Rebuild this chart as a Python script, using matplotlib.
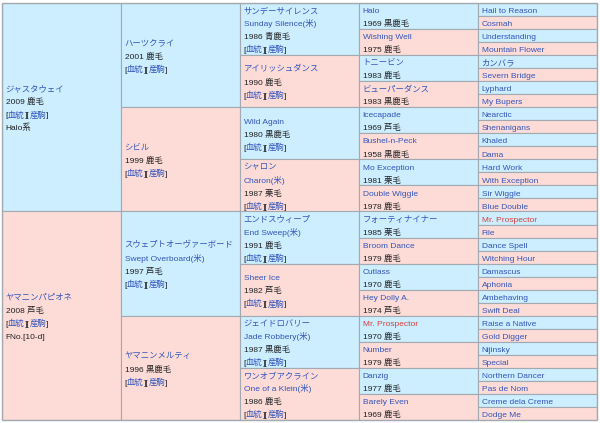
import matplotlib.pyplot as plt
from matplotlib.patches import Rectangle

plt.rcParams['font.family'] = ['Liberation Sans', 'Noto Sans CJK JP']

# each entry: (name lines shown as links, year / coat)
gen1 = [
    (['ジャスタウェイ'], '2009 鹿毛'),
    (['ヤマニンパピオネ'], '2008 芦毛'),
]
gen1_notes = ['Halo系', 'FNo.[10-d]']

gen2 = [
    (['ハーツクライ'], '2001 鹿毛'),
    (['シビル'], '1999 鹿毛'),
    (['スウェプトオーヴァーボード', 'Swept Overboard(米)'], '1997 芦毛'),
    (['ヤマニンメルティ'], '1996 黒鹿毛'),
]

gen3 = [
    (['サンデーサイレンス', 'Sunday Silence(米)'], '1986 青鹿毛'),
    (['アイリッシュダンス'], '1990 鹿毛'),
    (['Wild Again'], '1980 黒鹿毛'),
    (['シャロン', 'Charon(米)'], '1987 栗毛'),
    (['エンドスウィープ', 'End Sweep(米)'], '1991 鹿毛'),
    (['Sheer Ice'], '1982 芦毛'),
    (['ジェイドロバリー', 'Jade Robbery(米)'], '1987 黒鹿毛'),
    (['ワンオブアクライン', 'One of a Klein(米)'], '1986 鹿毛'),
]

gen4 = [
    (['Halo'], '1969 黒鹿毛'),
    (['Wishing Well'], '1975 鹿毛'),
    (['トニービン'], '1983 鹿毛'),
    (['ビューパーダンス'], '1983 黒鹿毛'),
    (['Icecapade'], '1969 芦毛'),
    (['Bushel-n-Peck'], '1958 黒鹿毛'),
    (['Mo Exception'], '1981 栗毛'),
    (['Double Wiggle'], '1978 鹿毛'),
    (['フォーティナイナー'], '1985 栗毛'),
    (['Broom Dance'], '1979 鹿毛'),
    (['Cutlass'], '1970 鹿毛'),
    (['Hey Dolly A.'], '1974 芦毛'),
    (['Mr. Prospector'], '1970 鹿毛'),
    (['Number'], '1979 鹿毛'),
    (['Danzig'], '1977 鹿毛'),
    (['Barely Even'], '1969 鹿毛'),
]

gen5 = [
    'Hail to Reason', 'Cosmah', 'Understanding', 'Mountain Flower',
    'カンバラ', 'Severn Bridge', 'Lyphard', 'My Bupers',
    'Nearctic', 'Shenanigans', 'Khaled', 'Dama',
    'Hard Work', 'With Exception', 'Sir Wiggle', 'Blue Double',
    'Mr. Prospector', 'File', 'Dance Spell', 'Witching Hour',
    'Damascus', 'Aphonia', 'Ambehaving', 'Swift Deal',
    'Raise a Native', 'Gold Digger', 'Nijinsky', 'Special',
    'Northern Dancer', 'Pas de Nom', 'Creme dela Creme', 'Dodge Me',
]

inbred = ['Mr. Prospector']

sire_bg = '#cceeff'
dam_bg = '#fddcd8'
border = '#a2a9b1'
link_col = '#3355bb'
text_col = '#202122'
red_col = '#d94040'
fs = 6.0

fig = plt.figure(figsize=(6, 4.23), dpi=100)
ax = fig.add_axes([2 / 600, 3 / 423, 595 / 600, 417 / 423])
ax.set_xlim(0, 5)
ax.set_ylim(32, 0)
ax.axis('off')
renderer = fig.canvas.get_renderer()
px_per_col = 595 / 5


def text_width(s):
    t = ax.text(0, 0, s, fontsize=fs)
    w = t.get_window_extent(renderer).width
    t.remove()
    return w / px_per_col


def links_line(x, y):
    parts = [('[', text_col), ('血統', link_col), ('][', text_col),
             ('産駒', link_col), (']', text_col)]
    prefix = ''
    for s, c in parts:
        dx = text_width(prefix + s) - text_width(s) if prefix else 0
        ax.text(x + dx, y, s, color=c, fontsize=fs, va='baseline')
        prefix += s


gens = [gen1, gen2, gen3, gen4, [([n], None) for n in gen5]]
nrows = 32
for g, cells in enumerate(gens):
    span = nrows / len(cells)
    for k, (names, info) in enumerate(cells):
        y0 = k * span
        ax.add_patch(Rectangle((g, y0), 1, span,
                               fc=sire_bg if k % 2 == 0 else dam_bg,
                               ec=border, lw=0.8))
        lines = [(n, 'name') for n in names]
        if info:
            lines.append((info, 'text'))
        if g < 3:
            lines.append((None, 'links'))
        if g == 0:
            lines.append((gen1_notes[k], 'text'))
        n = len(lines)
        x = g + 0.03
        for i, (s, kind) in enumerate(lines):
            y = y0 + span / 2 + (i - (n - 1) / 2) + 0.28
            if kind == 'links':
                links_line(x, y)
            elif kind == 'name':
                col = red_col if s in inbred else link_col
                ax.text(x, y, s, color=col, fontsize=fs, va='baseline')
            else:
                ax.text(x, y, s, color=text_col, fontsize=fs, va='baseline')

ax.add_patch(Rectangle((0, 0), 5, nrows, fill=False, ec=border, lw=1.0,
                       clip_on=False))

plt.savefig('out.png', dpi=100)
